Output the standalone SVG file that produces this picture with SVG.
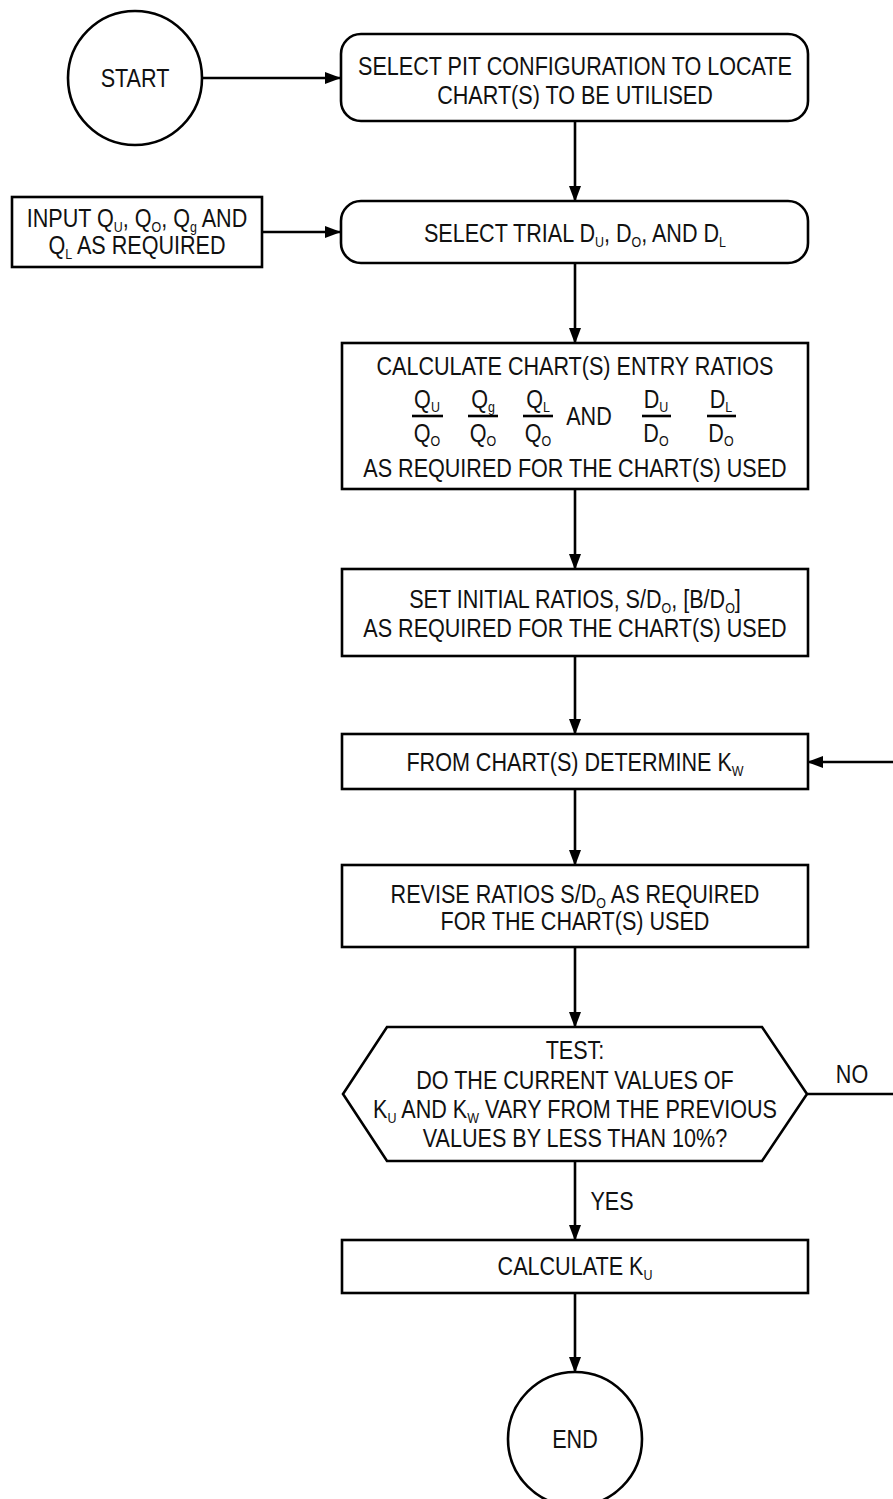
<svg xmlns="http://www.w3.org/2000/svg" width="893" height="1499" viewBox="0 0 893 1499">
<style>
.s{fill:#fff;stroke:#000;stroke-width:2.6}
.t{font-family:"Liberation Sans",Arial,sans-serif;font-size:26px;fill:#111;text-anchor:middle}
.b{font-size:15px}
.c{fill:none;stroke:#000;stroke-width:2.6}
</style>
<defs>
<marker id="ah" markerUnits="userSpaceOnUse" markerWidth="16" markerHeight="12" refX="15" refY="6" orient="auto">
<path d="M0,0 L16,6 L0,12 Z" fill="#000"/>
</marker>
</defs>
<g id="connectors">
<path class="c" d="M202,78 H340" marker-end="url(#ah)"/>
<path class="c" d="M575,121 V201" marker-end="url(#ah)"/>
<path class="c" d="M262,232 H340" marker-end="url(#ah)"/>
<path class="c" d="M575,263 V343" marker-end="url(#ah)"/>
<path class="c" d="M575,489 V569" marker-end="url(#ah)"/>
<path class="c" d="M575,656 V734" marker-end="url(#ah)"/>
<path class="c" d="M575,789 V865" marker-end="url(#ah)"/>
<path class="c" d="M575,947 V1027" marker-end="url(#ah)"/>
<path class="c" d="M575,1161 V1240" marker-end="url(#ah)"/>
<path class="c" d="M575,1293 V1372" marker-end="url(#ah)"/>
<path class="c" d="M807,1094 H900 V762 H808" marker-end="url(#ah)"/>
<text class="t" transform="matrix(0.83 0 0 1 144.84 0)" x="852" y="1083">NO</text>
<text class="t" transform="matrix(0.83 0 0 1 104.04 0)" x="612" y="1210">YES</text>
</g>
<g id="start">
<circle class="s" cx="135" cy="78" r="67"/>
<text class="t" transform="matrix(0.83 0 0 1 22.95 0)" x="135" y="87">START</text>
</g>
<g id="box1">
<rect class="s" x="341" y="34" width="467" height="87" rx="20"/>
<g transform="matrix(0.83 0 0 1 97.75 0)">
<text class="t" x="575" y="75">SELECT PIT CONFIGURATION TO LOCATE</text>
<text class="t" x="575" y="104">CHART(S) TO BE UTILISED</text>
</g>
</g>
<g id="input">
<rect class="s" x="12" y="197" width="250" height="70"/>
<g transform="matrix(0.83 0 0 1 23.29 0)">
<text class="t" x="137" y="227">INPUT Q<tspan class="b" dy="5">U</tspan><tspan dy="-5">, Q</tspan><tspan class="b" dy="5">O</tspan><tspan dy="-5">, Q</tspan><tspan class="b" dy="5">g</tspan><tspan dy="-5"> AND</tspan></text>
<text class="t" x="137" y="254">Q<tspan class="b" dy="5">L</tspan><tspan dy="-5"> AS REQUIRED</tspan></text>
</g>
</g>
<g id="box2">
<rect class="s" x="341" y="201" width="467" height="62" rx="20"/>
<text class="t" transform="matrix(0.83 0 0 1 97.75 0)" x="575" y="242">SELECT TRIAL D<tspan class="b" dy="5">U</tspan><tspan dy="-5">, D</tspan><tspan class="b" dy="5">O</tspan><tspan dy="-5">, AND D</tspan><tspan class="b" dy="5">L</tspan></text>
</g>
<g id="box3">
<rect class="s" x="342" y="343" width="466" height="146"/>
<text class="t" transform="matrix(0.83 0 0 1 97.75 0)" x="575" y="375">CALCULATE CHART(S) ENTRY RATIOS</text>
<g class="c">
<line x1="412" y1="416" x2="443" y2="416"/>
<line x1="468" y1="416" x2="498" y2="416"/>
<line x1="523" y1="416" x2="553" y2="416"/>
<line x1="642" y1="416" x2="671" y2="416"/>
<line x1="707" y1="416" x2="736" y2="416"/>
</g>
<g transform="matrix(0.83 0 0 1 72.59 0)">
<text class="t" x="427" y="408">Q<tspan class="b" dy="4">U</tspan></text>
<text class="t" x="427" y="442">Q<tspan class="b" dy="4">O</tspan></text>
</g>
<g transform="matrix(0.83 0 0 1 82.11 0)">
<text class="t" x="483" y="408">Q<tspan class="b" dy="4">g</tspan></text>
<text class="t" x="483" y="442">Q<tspan class="b" dy="4">O</tspan></text>
</g>
<g transform="matrix(0.83 0 0 1 91.46 0)">
<text class="t" x="538" y="408">Q<tspan class="b" dy="4">L</tspan></text>
<text class="t" x="538" y="442">Q<tspan class="b" dy="4">O</tspan></text>
</g>
<text class="t" transform="matrix(0.83 0 0 1 100.13 0)" x="589" y="425">AND</text>
<g transform="matrix(0.83 0 0 1 111.52 0)">
<text class="t" x="656" y="408">D<tspan class="b" dy="4">U</tspan></text>
<text class="t" x="656" y="442">D<tspan class="b" dy="4">O</tspan></text>
</g>
<g transform="matrix(0.83 0 0 1 122.57 0)">
<text class="t" x="721" y="408">D<tspan class="b" dy="4">L</tspan></text>
<text class="t" x="721" y="442">D<tspan class="b" dy="4">O</tspan></text>
</g>
<text class="t" transform="matrix(0.83 0 0 1 97.75 0)" x="575" y="477">AS REQUIRED FOR THE CHART(S) USED</text>
</g>
<g id="box4">
<rect class="s" x="342" y="569" width="466" height="87"/>
<g transform="matrix(0.83 0 0 1 97.75 0)">
<text class="t" x="575" y="608">SET INITIAL RATIOS, S/D<tspan class="b" dy="5">O</tspan><tspan dy="-5">, [B/D</tspan><tspan class="b" dy="5">O</tspan><tspan dy="-5">]</tspan></text>
<text class="t" x="575" y="637">AS REQUIRED FOR THE CHART(S) USED</text>
</g>
</g>
<g id="box5">
<rect class="s" x="342" y="734" width="466" height="55"/>
<text class="t" transform="matrix(0.83 0 0 1 97.75 0)" x="575" y="771">FROM CHART(S) DETERMINE K<tspan class="b" dy="5">W</tspan></text>
</g>
<g id="box6">
<rect class="s" x="342" y="865" width="466" height="82"/>
<g transform="matrix(0.83 0 0 1 97.75 0)">
<text class="t" x="575" y="903">REVISE RATIOS S/D<tspan class="b" dy="5">O</tspan><tspan dy="-5"> AS REQUIRED</tspan></text>
<text class="t" x="575" y="930">FOR THE CHART(S) USED</text>
</g>
</g>
<g id="test">
<path class="s" d="M387,1027 H762 L807,1094 L762,1161 H387 L343,1094 Z"/>
<g transform="matrix(0.83 0 0 1 97.75 0)">
<text class="t" x="575" y="1059">TEST:</text>
<text class="t" x="575" y="1089">DO THE CURRENT VALUES OF</text>
<text class="t" x="575" y="1118">K<tspan class="b" dy="5">U</tspan><tspan dy="-5"> AND K</tspan><tspan class="b" dy="5">W</tspan><tspan dy="-5"> VARY FROM THE PREVIOUS</tspan></text>
<text class="t" x="575" y="1147">VALUES BY LESS THAN 10%?</text>
</g>
</g>
<g id="box7">
<rect class="s" x="342" y="1240" width="466" height="53"/>
<text class="t" transform="matrix(0.83 0 0 1 97.75 0)" x="575" y="1275">CALCULATE K<tspan class="b" dy="5">U</tspan></text>
</g>
<g id="end">
<circle class="s" cx="575" cy="1439" r="67"/>
<text class="t" transform="matrix(0.83 0 0 1 97.75 0)" x="575" y="1448">END</text>
</g>
</svg>
